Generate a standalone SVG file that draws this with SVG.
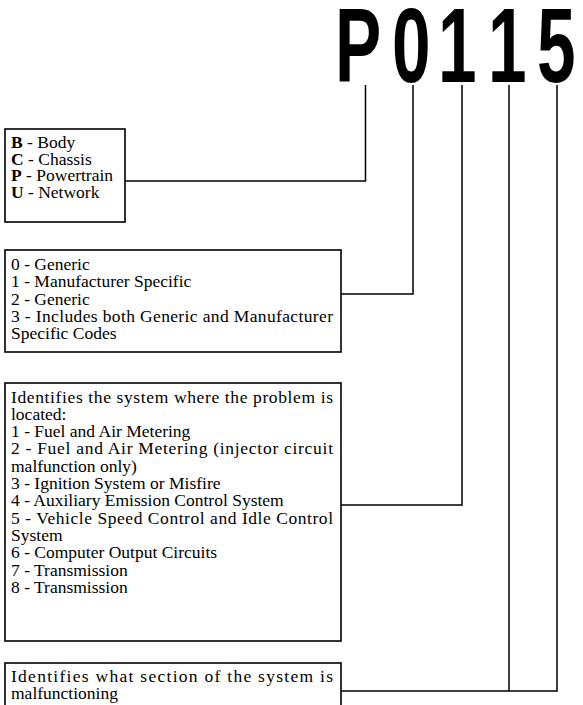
<svg xmlns="http://www.w3.org/2000/svg" width="583" height="705" viewBox="0 0 583 705">
<style>
.box{fill:#fff;stroke:#000;stroke-width:1.6}
.t{font-family:"Liberation Serif","Times New Roman",serif;font-size:17.5px;fill:#000}
.b{font-weight:bold}
.big{font-family:"Liberation Sans",Arial,sans-serif;font-weight:bold;font-size:105px;fill:#000}
.c{fill:none;stroke:#000;stroke-width:1.5}
</style>
<rect width="583" height="705" fill="#fff"/>
<g id="code">
<text class="big" transform="scale(0.66,1)" y="82"><tspan x="507.6">P</tspan><tspan x="593.9">0</tspan><tspan x="663.6">1</tspan><tspan x="739.4">1</tspan><tspan x="813.6">5</tspan></text>
</g>
<g id="connectors">
<polyline class="c" points="125,181 365.5,181 365.5,85"/>
<polyline class="c" points="341,294 413,294 413,85"/>
<polyline class="c" points="341,505 462,505 462,85"/>
<polyline class="c" points="341,691 557,691 557,85"/>
<line class="c" x1="509" y1="691" x2="509" y2="85"/>
</g>
<g id="type">
<rect class="box" x="5" y="129" width="120" height="93"/>
<text class="t" x="11" y="148"><tspan class="b">B</tspan> - Body</text>
<text class="t" x="11" y="164.5"><tspan class="b">C</tspan> - Chassis</text>
<text class="t" x="11" y="181"><tspan class="b">P</tspan> - Powertrain</text>
<text class="t" x="11" y="197.5"><tspan class="b">U</tspan> - Network</text>
</g>
<g id="scope">
<rect class="box" x="5" y="250" width="336" height="102"/>
<text class="t" x="11" y="270">0 - Generic</text>
<text class="t" x="11" y="287.3">1 - Manufacturer Specific</text>
<text class="t" x="11" y="304.6">2 - Generic</text>
<text class="t" x="11" y="321.9" textLength="322" lengthAdjust="spacing">3 - Includes both Generic and Manufacturer</text>
<text class="t" x="11" y="339.2">Specific Codes</text>
</g>
<g id="system">
<rect class="box" x="5" y="383" width="336" height="258"/>
<text class="t" x="11" y="402.5" textLength="322" lengthAdjust="spacing">Identifies the system where the problem is</text>
<text class="t" x="11" y="419.8">located:</text>
<text class="t" x="11" y="437.1">1 - Fuel and Air Metering</text>
<text class="t" x="11" y="454.4" textLength="322" lengthAdjust="spacing">2 - Fuel and Air Metering (injector circuit</text>
<text class="t" x="11" y="471.7">malfunction only)</text>
<text class="t" x="11" y="489">3 - Ignition System or Misfire</text>
<text class="t" x="11" y="506.3">4 - Auxiliary Emission Control System</text>
<text class="t" x="11" y="523.6" textLength="322" lengthAdjust="spacing">5 - Vehicle Speed Control and  Idle Control</text>
<text class="t" x="11" y="540.9">System</text>
<text class="t" x="11" y="558.2">6 - Computer Output Circuits</text>
<text class="t" x="11" y="575.5">7 - Transmission</text>
<text class="t" x="11" y="592.8">8 - Transmission</text>
</g>
<g id="section">
<rect class="box" x="5" y="663" width="336" height="60"/>
<text class="t" x="11" y="682" textLength="322" lengthAdjust="spacing">Identifies what section of the system is</text>
<text class="t" x="11" y="699">malfunctioning</text>
</g>
</svg>
